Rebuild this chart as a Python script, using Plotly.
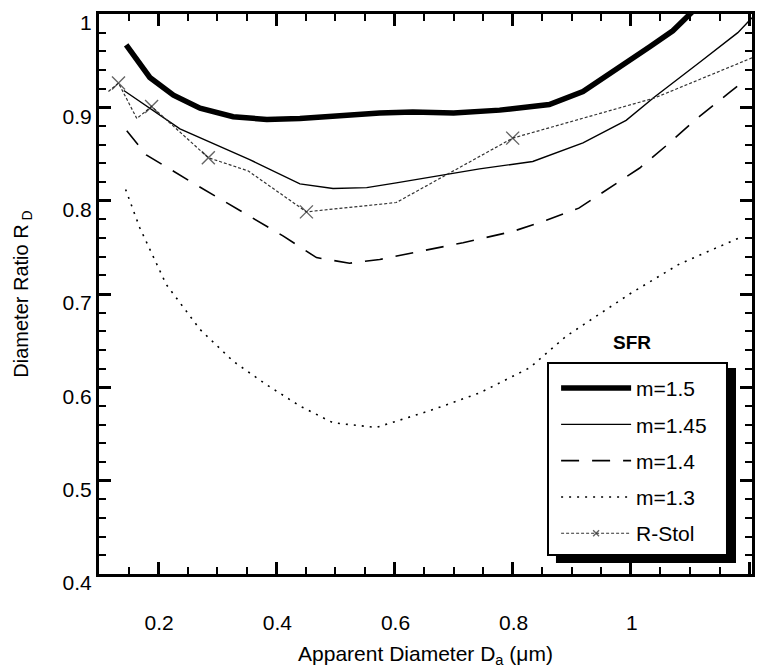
import plotly.graph_objects as go

# ---------------- data ----------------
x_m15 = [0.146, 0.186, 0.226, 0.271, 0.327, 0.384, 0.44, 0.496, 0.575, 0.631, 0.70, 0.778, 0.83, 0.862, 0.919, 0.975, 1.032, 1.071, 1.105]
y_m15 = [0.967, 0.932, 0.913, 0.899, 0.890, 0.887, 0.888, 0.891, 0.894, 0.895, 0.894, 0.897, 0.900, 0.903, 0.917, 0.940, 0.965, 0.982, 1.003]

x_m145 = [0.142, 0.237, 0.355, 0.44, 0.496, 0.553, 0.603, 0.688, 0.744, 0.834, 0.919, 0.992, 1.04, 1.116, 1.181, 1.205]
y_m145 = [0.918, 0.877, 0.844, 0.818, 0.813, 0.814, 0.819, 0.828, 0.834, 0.842, 0.862, 0.886, 0.911, 0.948, 0.980, 0.996]

x_m14 = [0.147, 0.18, 0.259, 0.338, 0.412, 0.468, 0.524, 0.575, 0.66, 0.716, 0.8, 0.857, 0.912, 0.963, 1.015, 1.06, 1.11, 1.167, 1.181]
y_m14 = [0.875, 0.849, 0.819, 0.79, 0.762, 0.739, 0.733, 0.737, 0.748, 0.755, 0.767, 0.779, 0.792, 0.813, 0.835, 0.859, 0.887, 0.916, 0.923]

x_m13 = [0.145, 0.169, 0.214, 0.271, 0.327, 0.383, 0.44, 0.496, 0.569, 0.66, 0.744, 0.829, 0.891, 0.998, 1.082, 1.19]
y_m13 = [0.812, 0.771, 0.71, 0.662, 0.628, 0.603, 0.58, 0.562, 0.557, 0.575, 0.594, 0.621, 0.655, 0.70, 0.732, 0.762]

x_rstol = [0.116, 0.133, 0.164, 0.189, 0.285, 0.352, 0.451, 0.603, 0.80, 1.04, 1.205]
y_rstol = [0.917, 0.926, 0.888, 0.901, 0.846, 0.832, 0.788, 0.798, 0.867, 0.910, 0.953]
rstol_marked = [False, True, False, True, True, False, True, False, True, False, False]

names = ["m=1.5", "m=1.45", "m=1.4", "m=1.3", "R-Stol"]
legend_title = "SFR"

# major tick positions (labels are 0.2 … 1 … 1.2 and 0.4 … 0.9, 1)
x_tickvals = [0.2, 0.4, 0.6, 0.8, 1.0, 1.2]
y_tickvals = [0.4, 0.5, 0.6, 0.7, 0.8, 0.9, 1.0]
x_minor_step = 0.05
y_minor_step = 0.02

x_range = [0.1, 1.205]
y_range = [0.4, 1.0]

x_title = "Apparent Diameter D<sub>a</sub> (μm)"
y_title = "Diameter Ratio R<sub> D</sub>"

# ---------------- figure ----------------
FONT = "Liberation Sans, Arial, sans-serif"
fig = go.Figure()

fig.add_trace(go.Scatter(x=x_m15, y=y_m15, mode="lines", name=names[0], legendgroup="g1",
                         line=dict(color="black", width=5.5)))
fig.add_trace(go.Scatter(x=x_m145, y=y_m145, mode="lines", name=names[1], legendgroup="g2",
                         line=dict(color="black", width=1.4)))
fig.add_trace(go.Scatter(x=x_m14, y=y_m14, mode="lines", name=names[2], legendgroup="g3",
                         line=dict(color="black", width=1.6, dash="18px,13px")))
fig.add_trace(go.Scatter(x=x_m13, y=y_m13, mode="lines", name=names[3], legendgroup="g4",
                         line=dict(color="black", width=1.6, dash="2px,6px")))
fig.add_trace(go.Scatter(x=x_rstol, y=y_rstol, mode="lines+markers", name=names[4], legendgroup="g5",
                         line=dict(color="#333333", width=1.2, dash="3px,2px"),
                         marker=dict(symbol="x-thin-open", color="#222222",
                                     size=[13 if m else 0 for m in rstol_marked],
                                     line=dict(width=1.4, color="#222222"))))

axis_common = dict(
    showline=True, linewidth=3, linecolor="black", mirror="ticks",
    ticks="inside", tickcolor="black", tickwidth=2.5, ticklen=12,
    showgrid=False, zeroline=False, automargin=False,
    tickfont=dict(family=FONT, size=21, color="black"),
)

fig.update_xaxes(range=x_range, tickmode="linear", tick0=x_tickvals[0],
                 dtick=round(x_tickvals[1] - x_tickvals[0], 3),
                 tickprefix="<br>", ticklabelshift=1,
                 minor=dict(dtick=x_minor_step, ticks="inside", ticklen=7,
                            tickwidth=2, tickcolor="black", showgrid=False),
                 title=dict(text=x_title, font=dict(family=FONT, size=21, color="black"),
                            standoff=14),
                 **axis_common)
fig.update_yaxes(range=y_range, tickmode="linear", tick0=y_tickvals[0],
                 dtick=round(y_tickvals[1] - y_tickvals[0], 3),
                 ticklabelshift=9,
                 minor=dict(dtick=y_minor_step, ticks="inside", ticklen=7,
                            tickwidth=2, tickcolor="black", showgrid=False),
                 title=dict(text=y_title, font=dict(family=FONT, size=20, color="black"),
                            standoff=29),
                 **axis_common)

# legend frame with drop shadow
fig.add_shape(type="rect", xref="paper", yref="paper", layer="above",
              x0=0.6998, x1=0.9755, y0=0.0196, y1=0.3679,
              fillcolor="black", line=dict(width=0))
fig.add_shape(type="rect", xref="paper", yref="paper", layer="above",
              x0=0.6876, x1=0.9617, y0=0.0339, y1=0.3768,
              fillcolor="white", line=dict(width=2, color="black"))

fig.add_annotation(text="<b>" + legend_title + "</b>", xref="paper", yref="paper",
                   x=0.848, y=0.414, showarrow=False,
                   font=dict(family=FONT, size=19, color="black"))

fig.update_layout(
    width=764, height=670,
    margin=dict(l=99, r=12, t=14, b=96),
    paper_bgcolor="white", plot_bgcolor="rgba(0,0,0,0)",
    showlegend=True,
    legend=dict(x=0.700, y=0.368, xanchor="left", yanchor="top",
                bgcolor="rgba(0,0,0,0)", borderwidth=0,
                font=dict(family=FONT, size=21, color="black"),
                itemwidth=70, tracegroupgap=6,
                traceorder="grouped"),
)

fig.write_html("out.html", config={"displayModeBar": False},
               post_script="document.body.style.margin='0';")
